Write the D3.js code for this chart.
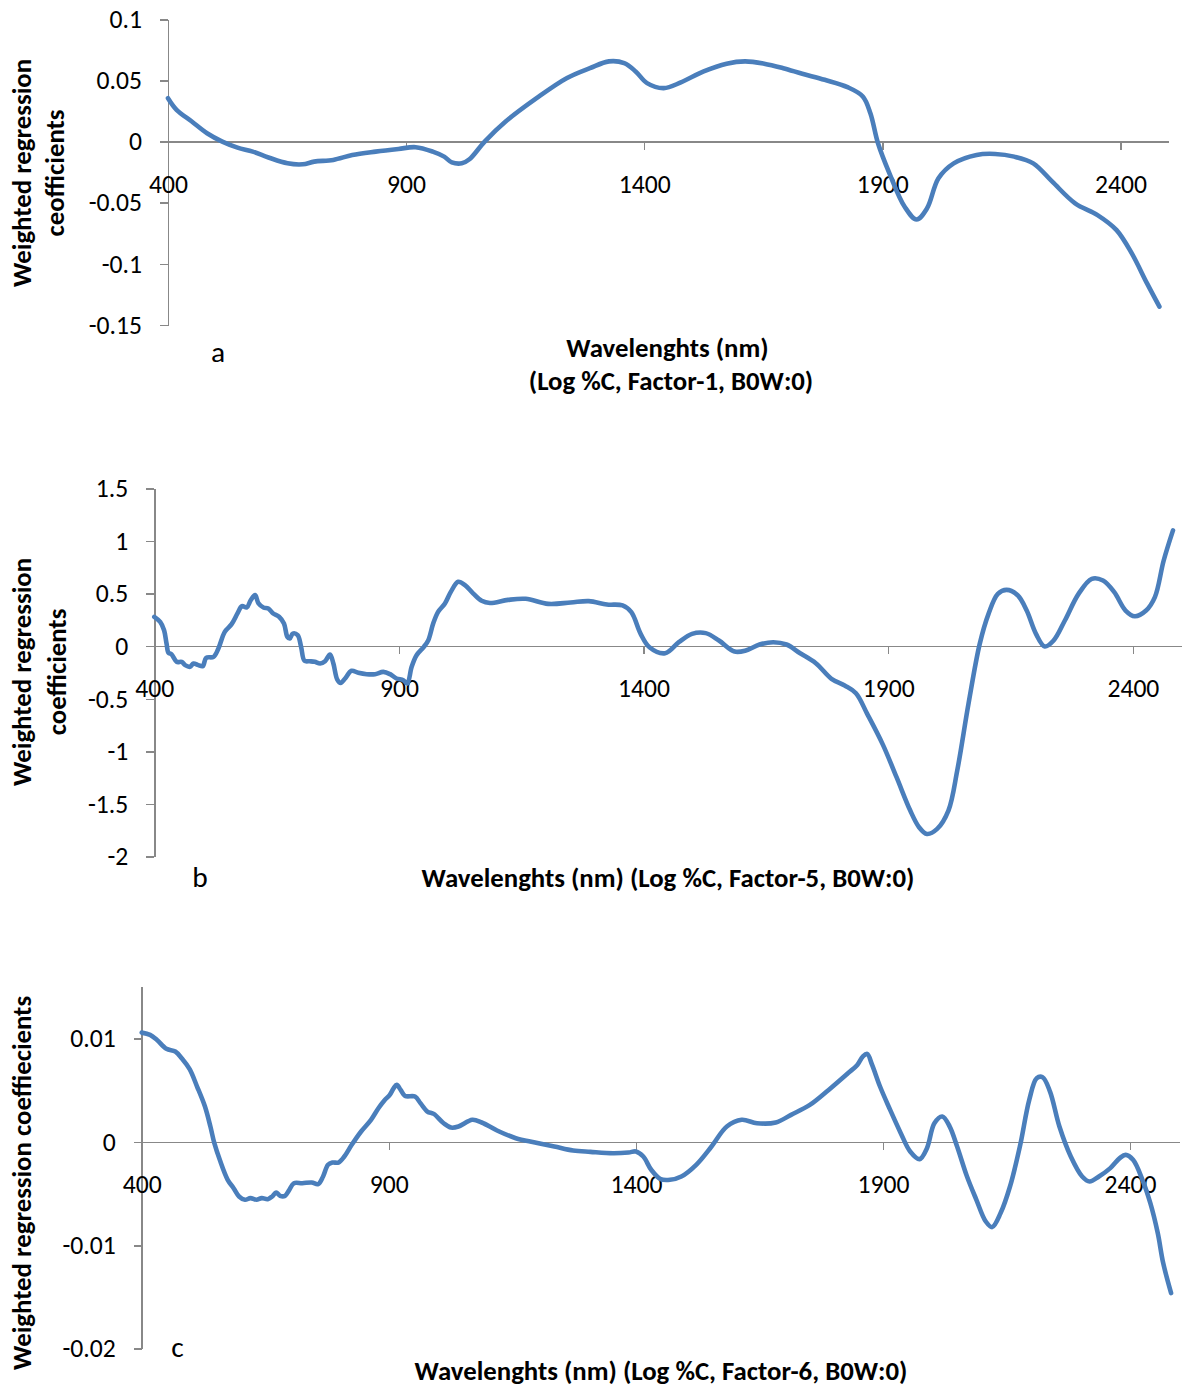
<!DOCTYPE html>
<html>
<head>
<meta charset="utf-8">
<script src="https://cdn.jsdelivr.net/npm/d3@7"></script>
<style>
  html, body { margin: 0; padding: 0; background: #fff; }
  svg { display: block; }
  text { font-family: Carlito, Calibri, Lato, "Liberation Sans", sans-serif; fill: #000; }
  .axis path, .axis line { stroke: #888888; stroke-width: 1.5; shape-rendering: crispEdges; }
  .series { fill: none; stroke: #4a7ebb; stroke-width: 4.6; stroke-linejoin: round; stroke-linecap: round; }
</style>
</head>
<body>
<svg id="chart" width="1183" height="1387"></svg>
<script>
// ---- Data: wavelength (nm) and weighted regression coefficient per panel ----

// (a) Log %C, Factor-1
const wavelengthsA = [400, 418, 450, 482, 514, 546, 578, 611, 651, 683, 707, 747, 787, 836, 884, 920, 956, 980, 996, 1017,
  1033, 1065, 1109, 1174, 1238, 1286, 1326, 1358, 1382, 1406, 1441, 1477, 1525, 1573, 1612, 1652, 1692, 1732, 1779, 1827,
  1859, 1875, 1891, 1915, 1947, 1972, 1994, 2018, 2050, 2098, 2137, 2177, 2217, 2257, 2305, 2352, 2392, 2424, 2456, 2482];
const coefA = [0.0355, 0.026, 0.0164, 0.0068, 0.0, -0.0049, -0.0082, -0.013, -0.0178, -0.0186, -0.0164, -0.015, -0.011, -0.0082, -0.006, -0.0046, -0.0082, -0.0123, -0.017, -0.0178,
  -0.0145, 0.0, 0.0164, 0.0355, 0.052, 0.060, 0.0656, 0.0642, 0.0574, 0.0478, 0.0437, 0.0484, 0.0574, 0.0637, 0.0656, 0.0637, 0.060, 0.0555, 0.0505, 0.0445,
  0.0369, 0.0232, -0.0014, -0.026, -0.0533, -0.0637, -0.0546, -0.030, -0.0178, -0.0109, -0.0101, -0.0123, -0.0178, -0.0328, -0.0505, -0.0601, -0.0724, -0.0915, -0.116, -0.135];
const yTicksA = [-0.15, -0.1, -0.05, 0, 0.05, 0.1];

// (b) Log %C, Factor-5
const wavelengthsB = [400, 412, 420, 425, 429, 435, 446, 456, 463, 473, 480, 490, 499, 506, 521, 531, 544, 558, 570, 579,
  589, 597, 606, 613, 623, 633, 643, 655, 665, 672, 677, 683, 693, 700, 707, 718, 728, 739, 749, 759,
  766, 774, 781, 790, 803, 817, 834, 851, 868, 882, 895, 909, 917, 926, 936, 951, 960, 970, 980, 994,
  1006, 1021, 1035, 1052, 1069, 1086, 1123, 1159, 1205, 1251, 1288, 1325, 1357, 1375, 1394, 1412, 1444, 1472, 1499, 1527,
  1554, 1586, 1609, 1637, 1665, 1692, 1720, 1752, 1784, 1811, 1834, 1857, 1889, 1917, 1945, 1963, 1979, 2000, 2023, 2041,
  2064, 2087, 2105, 2124, 2142, 2165, 2183, 2202, 2220, 2238, 2261, 2289, 2316, 2339, 2362, 2385, 2404, 2427, 2445, 2463, 2482];
const coefB = [0.279, 0.231, 0.152, 0.025, -0.063, -0.076, -0.149, -0.149, -0.18, -0.196, -0.165, -0.18, -0.19, -0.111, -0.101, -0.022, 0.136, 0.209, 0.311, 0.38,
  0.368, 0.437, 0.485, 0.406, 0.368, 0.358, 0.311, 0.279, 0.215, 0.089, 0.073, 0.12, 0.105, -0.006, -0.139, -0.143, -0.149, -0.165, -0.143, -0.079,
  -0.165, -0.317, -0.349, -0.307, -0.234, -0.253, -0.266, -0.266, -0.244, -0.266, -0.307, -0.323, -0.355, -0.196, -0.086, -0.006, 0.057, 0.215, 0.326, 0.406,
  0.516, 0.612, 0.58, 0.5, 0.431, 0.41, 0.44, 0.45, 0.402, 0.415, 0.428, 0.396, 0.387, 0.323, 0.117, -0.01, -0.067, 0.038, 0.117, 0.124,
  0.054, -0.051, -0.041, 0.016, 0.038, 0.016, -0.067, -0.162, -0.31, -0.374, -0.447, -0.643, -0.935, -1.245, -1.562, -1.72, -1.784, -1.736, -1.562, -1.182,
  -0.548, 0.022, 0.307, 0.497, 0.535, 0.482, 0.339, 0.117, -0.003, 0.054, 0.244, 0.497, 0.64, 0.624, 0.513, 0.339, 0.285, 0.339, 0.466, 0.814, 1.1];
const yTicksB = [-2, -1.5, -1, -0.5, 0, 0.5, 1, 1.5];

// (c) Log %C, Factor-6
const wavelengthsC = [400, 417, 431, 450, 468, 481, 497, 512, 528, 539, 547, 558, 574, 586, 597, 609, 620, 632, 643, 655,
  664, 672, 680, 690, 698, 708, 725, 744, 757, 767, 777, 786, 798, 810, 825, 844, 864, 879, 891, 902,
  910, 916, 924, 933, 953, 964, 978, 991, 1011, 1026, 1041, 1069, 1088, 1119, 1157, 1196, 1235, 1273, 1308, 1354,
  1385, 1400, 1415, 1431, 1450, 1469, 1492, 1522, 1553, 1584, 1614, 1645, 1683, 1714, 1752, 1790, 1829, 1848, 1859, 1868,
  1878, 1894, 1913, 1936, 1955, 1974, 1989, 2004, 2020, 2035, 2050, 2070, 2089, 2108, 2121, 2138, 2157, 2177, 2196, 2211,
  2223, 2238, 2257, 2280, 2303, 2318, 2337, 2360, 2379, 2391, 2406, 2425, 2441, 2456, 2467, 2483];
const coefC = [0.01056, 0.01034, 0.00985, 0.00899, 0.00873, 0.00808, 0.00702, 0.00535, 0.00341, 0.00148, -0.00013, -0.00174, -0.00367, -0.00448, -0.00528, -0.0056, -0.00544, -0.0056, -0.00544, -0.00554,
  -0.00528, -0.0049, -0.00522, -0.00522, -0.0047, -0.004, -0.004, -0.00393, -0.00409, -0.00335, -0.00222, -0.002, -0.002, -0.00142, -0.00029, 0.001, 0.00213, 0.00325, 0.004, 0.00454,
  0.00519, 0.00551, 0.00502, 0.00444, 0.00438, 0.00374, 0.00293, 0.0027, 0.0018, 0.00138, 0.00148, 0.00213, 0.00187, 0.0011, 0.00035, -0.00006, -0.00045, -0.00084, -0.00097, -0.0011,
  -0.00103, -0.00093, -0.00142, -0.0027, -0.0036, -0.00367, -0.00335, -0.00222, -0.00045, 0.00148, 0.00213, 0.0018, 0.00187, 0.00261, 0.00357, 0.00502, 0.00663, 0.00744, 0.00824, 0.0085,
  0.00744, 0.00535, 0.00325, 0.00084, -0.00093, -0.00167, -0.00061, 0.0018, 0.00245, 0.00148, -0.00045, -0.00335, -0.0056, -0.0077, -0.00824, -0.00689, -0.00432, -0.00045, 0.00406, 0.00615,
  0.00625, 0.00486, 0.00148, -0.00142, -0.00335, -0.00383, -0.00335, -0.00254, -0.00158, -0.00126, -0.00174, -0.00367, -0.00593, -0.00882, -0.01172, -0.01462];
const yTicksC = [-0.02, -0.01, 0, 0.01];

// Shared x axis
const xDomain = [400, 2500];
const xTicks = [400, 900, 1400, 1900, 2400];

// Text
const xTitleA = ["Wavelenghts (nm)", "(Log %C, Factor-1, B0W:0)"];
const xTitleB = ["Wavelenghts (nm) (Log %C, Factor-5, B0W:0)"];
const xTitleC = ["Wavelenghts (nm) (Log %C, Factor-6, B0W:0)"];
const yTitleA = ["Weighted regression", "ceofficients"];
const yTitleB = ["Weighted regression", "coefficients"];
const yTitleC = ["Weighted regression coeffiecients"];
const panelLetters = ["a", "b", "c"];

// ---- Layout ----
const svg = d3.select("#chart");

// Pick font sizes from measured text widths so the installed fallback font keeps the same proportions
function fitSize(str, weight, targetWidth) {
  const t = svg.append("text").attr("font-size", 100).attr("font-weight", weight).text(str);
  const w = t.node().getComputedTextLength();
  t.remove();
  return 100 * targetWidth / w;
}
const tickSize = fitSize("2400", "normal", 52);
const boldSize = fitSize(xTitleB[0], "bold", 493);
const letterSize = tickSize * 1.15;

const panels = [
  { nm: wavelengthsA, coef: coefA, yDomain: [-0.15, 0.1], yTicks: yTicksA,
    x0: 168, x1: 1168, yTop: 19.3, yBottom: 325,
    xTitle: xTitleA, xTitlePos: [[667.5, 347], [671, 380]],
    yTitle: yTitleA, yTitlePos: [[21, 173], [54.6, 173]],
    letter: panelLetters[0], letterPos: [218, 361.5] },
  { nm: wavelengthsB, coef: coefB, yDomain: [-2, 1.5], yTicks: yTicksB,
    x0: 154.3, x1: 1181.8, yTop: 488.3, yBottom: 856.7,
    xTitle: xTitleB, xTitlePos: [[668, 877]],
    yTitle: yTitleB, yTitlePos: [[21, 672], [56, 672]],
    letter: panelLetters[1], letterPos: [200, 887] },
  { nm: wavelengthsC, coef: coefC, yDomain: [-0.02, 0.015], yTicks: yTicksC,
    x0: 141.7, x1: 1179.5, yTop: 986.7, yBottom: 1348.7,
    xTitle: xTitleC, xTitlePos: [[661, 1370]],
    yTitle: yTitleC, yTitlePos: [[21, 1183]],
    letter: panelLetters[2], letterPos: [177.5, 1356.5] }
];

panels.forEach((p) => {
  const x = d3.scaleLinear().domain(xDomain).range([p.x0, p.x1]);
  const y = d3.scaleLinear().domain(p.yDomain).range([p.yBottom, p.yTop]);
  const g = svg.append("g");

  // Y axis
  const yAxis = g.append("g").attr("class", "axis")
    .attr("transform", `translate(${p.x0},0)`)
    .call(d3.axisLeft(y).tickValues(p.yTicks).tickFormat(d => String(d))
      .tickSize(8).tickSizeOuter(0).tickPadding(18));
  yAxis.attr("font-family", null);
  yAxis.selectAll("text").attr("font-size", tickSize).attr("fill", "#000");

  // X axis along zero
  const xAxis = g.append("g").attr("class", "axis")
    .attr("transform", `translate(0,${y(0)})`)
    .call(d3.axisBottom(x).tickValues(xTicks).tickFormat(d => String(d))
      .tickSize(8).tickSizeOuter(0));
  xAxis.attr("font-family", null);
  xAxis.selectAll("text").attr("font-size", tickSize)
    .attr("fill", "#000").attr("y", 42).attr("dy", "0.35em");

  // Coefficient curve
  const pts = p.nm.map((w, k) => [w, p.coef[k]]);
  const line = d3.line().x(d => x(d[0])).y(d => y(d[1])).curve(d3.curveCatmullRom.alpha(0.5));
  g.append("path").datum(pts).attr("class", "series").attr("d", line);

  // Axis titles
  p.xTitle.forEach((s, k) => {
    g.append("text").attr("x", p.xTitlePos[k][0]).attr("y", p.xTitlePos[k][1])
      .attr("text-anchor", "middle").attr("dominant-baseline", "central")
      .attr("font-weight", "bold").attr("font-size", boldSize).text(s);
  });
  p.yTitle.forEach((s, k) => {
    const [tx, ty] = p.yTitlePos[k];
    g.append("text").attr("transform", `translate(${tx},${ty}) rotate(-90)`)
      .attr("text-anchor", "middle").attr("dominant-baseline", "central")
      .attr("font-weight", "bold").attr("font-size", boldSize).text(s);
  });

  // Panel letter
  g.append("text").attr("x", p.letterPos[0]).attr("y", p.letterPos[1])
    .attr("text-anchor", "middle").attr("font-size", letterSize).text(p.letter);
});
</script>
</body>
</html>
